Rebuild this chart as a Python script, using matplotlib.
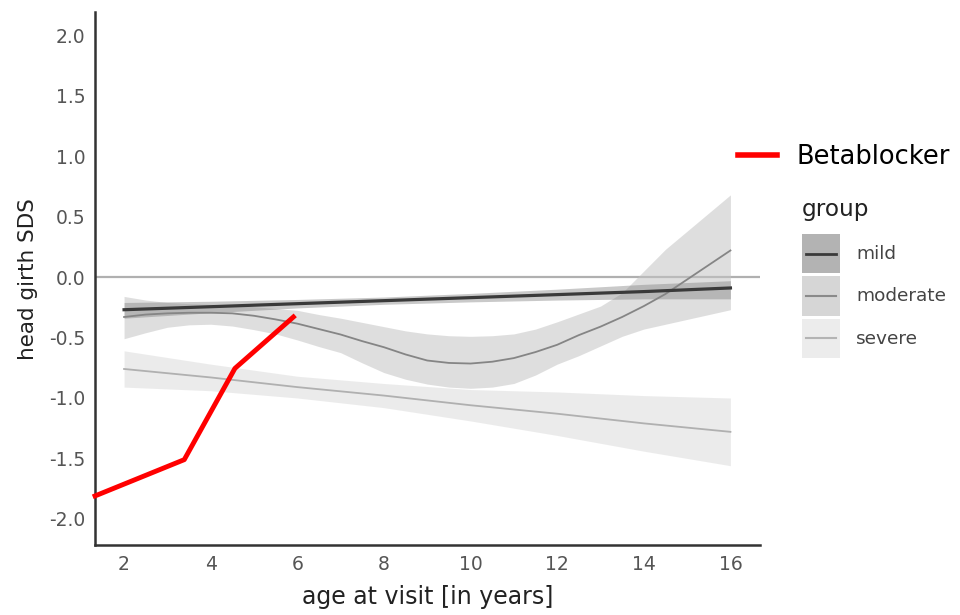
import matplotlib.pyplot as plt
from matplotlib.patches import Patch, Rectangle
from matplotlib.lines import Line2D

plt.rcParams["font.family"] = ["DejaVu Sans"]

# betablocker patient
bb_age = [1.33, 3.39, 4.56, 5.91]
bb_sds = [-1.81, -1.51, -0.755, -0.33]

# mild group (linear fit + CI)
mild_age = [2, 4, 6, 8, 10, 12, 14, 16]
mild_fit = [-0.27, -0.245, -0.22, -0.195, -0.17, -0.145, -0.12, -0.09]
mild_lo = [-0.34, -0.295, -0.255, -0.225, -0.205, -0.19, -0.18, -0.18]
mild_hi = [-0.21, -0.20, -0.185, -0.165, -0.135, -0.10, -0.06, -0.03]

# moderate group (smooth fit + CI)
mod_age = [2, 2.5, 3, 3.5, 4, 4.5, 5, 5.5, 6, 6.5, 7, 7.5, 8, 8.5, 9,
           9.5, 10, 10.5, 11, 11.5, 12, 12.5, 13, 13.5, 14, 14.5, 15, 15.5, 16]
mod_fit = [-0.33, -0.31, -0.30, -0.295, -0.295, -0.30, -0.32, -0.35, -0.385, -0.43, -0.475, -0.53, -0.58, -0.64, -0.69,
           -0.71, -0.715, -0.70, -0.67, -0.62, -0.56, -0.48, -0.41, -0.33, -0.24, -0.14, -0.02, 0.10, 0.22]
mod_hi = [-0.16, -0.19, -0.21, -0.22, -0.225, -0.23, -0.245, -0.26, -0.275, -0.31, -0.34, -0.375, -0.41, -0.445, -0.47,
          -0.485, -0.49, -0.485, -0.47, -0.43, -0.37, -0.305, -0.24, -0.13, 0.05, 0.23, 0.38, 0.53, 0.68]
mod_lo = [-0.51, -0.46, -0.415, -0.395, -0.39, -0.405, -0.435, -0.47, -0.52, -0.575, -0.625, -0.71, -0.79, -0.845, -0.885,
          -0.91, -0.92, -0.91, -0.88, -0.81, -0.72, -0.65, -0.57, -0.49, -0.43, -0.39, -0.35, -0.31, -0.27]

# severe group (linear fit + CI)
sev_age = [2, 4, 6, 8, 10, 12, 14, 16]
sev_fit = [-0.76, -0.83, -0.91, -0.98, -1.06, -1.13, -1.21, -1.28]
sev_hi = [-0.61, -0.72, -0.82, -0.88, -0.93, -0.95, -0.98, -1.00]
sev_lo = [-0.91, -0.94, -1.00, -1.08, -1.19, -1.31, -1.44, -1.56]

x_ticks = [2, 4, 6, 8, 10, 12, 14, 16]
y_ticks = [-2.0, -1.5, -1.0, -0.5, 0.0, 0.5, 1.0, 1.5, 2.0]
groups = ["mild", "moderate", "severe"]


class KeyHandler:
    # ggplot-like key: filled square with the fit line through its middle
    def legend_artist(self, legend, orig_handle, fontsize, handlebox):
        patch, line = orig_handle
        x0, y0 = handlebox.xdescent, handlebox.ydescent
        w, h = handlebox.width, handlebox.height
        rect = Rectangle((-x0, -y0), w, h, facecolor=patch.get_facecolor(),
                         edgecolor="none", transform=handlebox.get_transform())
        ln = Line2D([-x0 + 3, -x0 + w - 3], [-y0 + h / 2] * 2, color=line.get_color(),
                    lw=line.get_linewidth(), transform=handlebox.get_transform())
        handlebox.add_artist(rect)
        handlebox.add_artist(ln)
        return rect


fig = plt.figure(figsize=(9.6, 6.15), dpi=100)
ax = fig.add_axes([0.099, 0.114, 0.693, 0.866])

ax.axhline(0, color="#b0b0b0", lw=1.6, zorder=1)

ax.fill_between(sev_age, sev_lo, sev_hi, color="#dcdcdc", alpha=0.55, lw=0, zorder=2)
ax.fill_between(mod_age, mod_lo, mod_hi, color="#c4c4c4", alpha=0.55, lw=0, zorder=2)
ax.fill_between(mild_age, mild_lo, mild_hi, color="#7f7f7f", alpha=0.42, lw=0, zorder=2)

ax.plot(sev_age, sev_fit, color="#b0b0b0", lw=1.3, zorder=3)
ax.plot(mod_age, mod_fit, color="#858585", lw=1.3, zorder=3)
ax.plot(mild_age, mild_fit, color="#3a3a3a", lw=2.3, zorder=3)

ax.plot(bb_age, bb_sds, color="#ff0000", lw=3.5, zorder=4, clip_on=False)

ax.set_xlim(1.33, 16.69)
ax.set_ylim(-2.215, 2.19)
ax.set_xticks(x_ticks)
ax.set_xticklabels([str(t) for t in x_ticks])
ax.set_yticks(y_ticks)
ax.set_yticklabels([f"{t:.1f}" for t in y_ticks])
ax.tick_params(length=0, labelsize=13.5, colors="#555555", pad=7)

for s in ["top", "right"]:
    ax.spines[s].set_visible(False)
for s in ["left", "bottom"]:
    ax.spines[s].set_color("#333333")
    ax.spines[s].set_linewidth(1.8)

ax.set_xlabel("age at visit [in years]", fontsize=17, color="#222222", labelpad=8)
ax.set_ylabel("head girth SDS", fontsize=15.5, color="#222222", labelpad=8)

# legends
bb_handle = Line2D([], [], color="#ff0000", lw=4)
leg1 = fig.legend([bb_handle], ["Betablocker"], loc="center left",
                  bbox_to_anchor=(0.769, 0.745), frameon=False, fontsize=18.5,
                  handlelength=1.5, handletextpad=0.78, borderpad=0, borderaxespad=0)

grp_handles = [
    (Patch(facecolor="#b3b3b3"), Line2D([], [], color="#3a3a3a", lw=2)),
    (Patch(facecolor="#d6d6d6"), Line2D([], [], color="#8a8a8a", lw=1.5)),
    (Patch(facecolor="#ececec"), Line2D([], [], color="#b4b4b4", lw=1.5)),
]
leg2 = fig.legend(grp_handles, groups, loc="upper left",
                  bbox_to_anchor=(0.835, 0.6195), frameon=False, fontsize=13.3,
                  handlelength=2.1, handleheight=2.9, labelspacing=0.16,
                  handletextpad=0.86, borderpad=0, borderaxespad=0,
                  handler_map={tuple: KeyHandler()})
for t in leg2.get_texts():
    t.set_color("#444444")
fig.text(0.835, 0.6488, "group", fontsize=16.7, color="#222222", ha="left", va="baseline")

fig.savefig("out.png", dpi=100)
